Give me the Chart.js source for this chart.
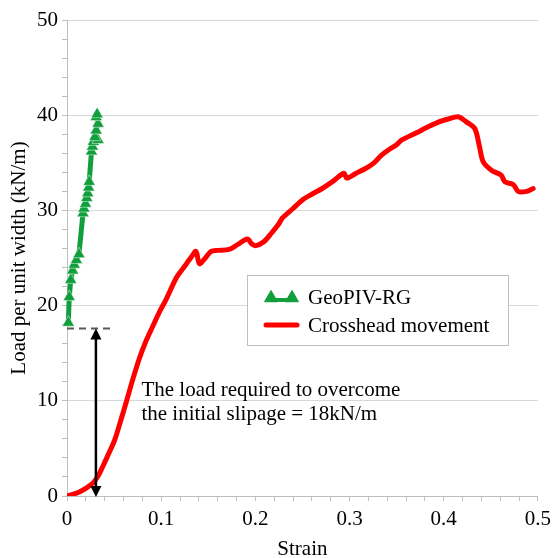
<!DOCTYPE html>
<html>
<head>
<meta charset="utf-8">
<script src="https://cdn.jsdelivr.net/npm/chart.js@4/dist/chart.umd.min.js"></script>
<style>
  html, body { margin: 0; padding: 0; background: #fff; }
  #wrap { width: 557px; height: 558px; }
</style>
</head>
<body>
<div id="wrap"><canvas id="chart"></canvas></div>
<script>
// crosshead movement (red curve)
const crossStrain = [0, 0.007, 0.0137, 0.02, 0.0278, 0.033, 0.038, 0.044, 0.0507, 0.057, 0.063, 0.07, 0.077, 0.084, 0.091, 0.098, 0.105, 0.116, 0.1247, 0.132, 0.137, 0.1406, 0.146, 0.153, 0.16, 0.172, 0.181, 0.1917, 0.196, 0.2005, 0.209, 0.217, 0.225, 0.2287, 0.24, 0.25, 0.26, 0.271, 0.283, 0.294, 0.297, 0.307, 0.317, 0.326, 0.334, 0.342, 0.35, 0.3555, 0.37, 0.384, 0.395, 0.405, 0.4154, 0.424, 0.433, 0.438, 0.442, 0.451, 0.461, 0.465, 0.474, 0.479, 0.488, 0.495];
const crossLoad = [0, 0.2, 0.45, 0.8, 1.4, 2.1, 3.1, 4.4, 5.9, 7.9, 9.9, 12.3, 14.5, 16.3, 17.8, 19.3, 20.6, 22.9, 24.1, 25.1, 25.7, 24.4, 24.9, 25.7, 25.8, 25.9, 26.4, 27.0, 26.5, 26.3, 26.7, 27.6, 28.6, 29.2, 30.2, 31.1, 31.7, 32.3, 33.1, 33.9, 33.4, 33.9, 34.4, 35.0, 35.8, 36.4, 36.9, 37.4, 38.1, 38.8, 39.3, 39.6, 39.84, 39.3, 38.6, 36.7, 35.1, 34.2, 33.7, 33.0, 32.7, 32.0, 32.0, 32.3];

// GeoPIV-RG (green triangles)
const geoStrain = [0.0014, 0.0024, 0.004, 0.006, 0.0077, 0.010, 0.0127, 0.017, 0.018, 0.0197, 0.021, 0.022, 0.023, 0.0236, 0.026, 0.027, 0.028, 0.033, 0.0296, 0.031, 0.033, 0.031, 0.032];
const geoLoad = [18.2, 20.9, 22.7, 23.7, 24.3, 24.8, 25.4, 29.7, 30.2, 30.7, 31.3, 31.8, 32.4, 33.0, 36.2, 36.7, 37.2, 37.4, 37.7, 38.4, 39.1, 39.8, 40.1];

const xMajorTicks = [0, 0.1, 0.2, 0.3, 0.4, 0.5];
const yMajorTicks = [0, 10, 20, 30, 40, 50];

// annotation
const slipLoad = 17.6;
const arrowStrain = 0.0307;
const dashEndStrain = 0.051;
const noteStrain = 0.079;
const noteLoads = [10.5, 8.0];
const noteLines = ['The load required to overcome', 'the initial slipage = 18kN/m'];

const green = '#119e3c';
const red = '#ff0000';
const FONT = "'Liberation Serif', 'Times New Roman', serif";

const isMajor = (v, list) => list.some(m => Math.abs(m - v) < 1e-6);

const annotPlugin = {
  id: 'annot',
  afterDatasetsDraw(chart) {
    const ctx = chart.ctx;
    const xs = chart.scales.x, ys = chart.scales.y;
    const yS = ys.getPixelForValue(slipLoad);
    const y0 = ys.getPixelForValue(0);
    const xa = xs.getPixelForValue(arrowStrain);
    ctx.save();
    // dashed level line
    ctx.setLineDash([7, 5]);
    ctx.strokeStyle = '#595959';
    ctx.lineWidth = 2;
    ctx.beginPath();
    ctx.moveTo(xs.getPixelForValue(0), yS);
    ctx.lineTo(xs.getPixelForValue(dashEndStrain), yS);
    ctx.stroke();
    ctx.setLineDash([]);
    // double arrow
    ctx.strokeStyle = '#000';
    ctx.fillStyle = '#000';
    ctx.lineWidth = 2.5;
    ctx.beginPath();
    ctx.moveTo(xa, yS + 8);
    ctx.lineTo(xa, y0 - 8);
    ctx.stroke();
    ctx.beginPath();
    ctx.moveTo(xa, yS); ctx.lineTo(xa - 5.5, yS + 11); ctx.lineTo(xa + 5.5, yS + 11); ctx.closePath();
    ctx.fill();
    ctx.beginPath();
    ctx.moveTo(xa, y0 + 1); ctx.lineTo(xa - 5.5, y0 - 10); ctx.lineTo(xa + 5.5, y0 - 10); ctx.closePath();
    ctx.fill();
    // note text
    ctx.font = '21px ' + FONT;
    ctx.textAlign = 'left';
    ctx.textBaseline = 'alphabetic';
    noteLines.forEach((t, i) => {
      ctx.fillText(t, xs.getPixelForValue(noteStrain), ys.getPixelForValue(noteLoads[i]));
    });
    ctx.restore();
  },
  afterDraw(chart) {
    // boxed legend
    const ctx = chart.ctx;
    const bx = 247, by = 275, bw = 261, bh = 70;
    ctx.save();
    ctx.fillStyle = '#fff';
    ctx.fillRect(bx, by, bw, bh);
    ctx.strokeStyle = '#bfbfbf';
    ctx.lineWidth = 1;
    ctx.strokeRect(bx + 0.5, by + 0.5, bw, bh);

    ctx.strokeStyle = green;
    ctx.lineWidth = 4;
    ctx.beginPath();
    ctx.moveTo(270, 300);
    ctx.lineTo(293, 300);
    ctx.stroke();
    ctx.fillStyle = green;
    ctx.lineWidth = 1;
    Chart.helpers.drawPoint(ctx, {pointStyle: 'triangle', radius: 7.5, borderWidth: 1, rotation: 0}, 271, 298);
    Chart.helpers.drawPoint(ctx, {pointStyle: 'triangle', radius: 7.5, borderWidth: 1, rotation: 0}, 292, 298);

    ctx.strokeStyle = red;
    ctx.lineWidth = 5;
    ctx.lineCap = 'round';
    ctx.beginPath();
    ctx.moveTo(266, 325);
    ctx.lineTo(297, 325);
    ctx.stroke();

    ctx.fillStyle = '#000';
    ctx.font = '21px ' + FONT;
    ctx.textAlign = 'left';
    ctx.textBaseline = 'alphabetic';
    ctx.fillText('GeoPIV-RG', 308, 304);
    ctx.fillText('Crosshead movement', 308, 332);
    ctx.restore();
  }
};

new Chart(document.getElementById('chart'), {
  type: 'line',
  data: {
    datasets: [
      {
        label: 'GeoPIV-RG',
        data: geoStrain.map((x, i) => ({x: x, y: geoLoad[i]})),
        borderColor: green,
        backgroundColor: green,
        borderWidth: 5,
        pointStyle: 'triangle',
        pointRadius: 7,
        pointBackgroundColor: green,
        pointBorderColor: 'rgba(255,255,255,0.6)',
        pointBorderWidth: 0.8,
        tension: 0,
        clip: false,
        order: 1
      },
      {
        label: 'Crosshead movement',
        data: crossStrain.map((x, i) => ({x: x, y: crossLoad[i]})),
        borderColor: red,
        backgroundColor: red,
        borderWidth: 5,
        pointRadius: 0,
        tension: 0.3,
        borderCapStyle: 'round',
        borderJoinStyle: 'round',
        order: 2
      }
    ]
  },
  options: {
    responsive: true,
    maintainAspectRatio: false,
    animation: false,
    layout: { padding: { top: 20, right: 17, left: 0, bottom: 0 } },
    plugins: {
      legend: { display: false },
      tooltip: { enabled: false }
    },
    scales: {
      x: {
        type: 'linear',
        min: 0,
        max: 0.5,
        afterFit: s => { s.height = 62; },
        ticks: {
          stepSize: 0.02,
          autoSkip: false,
          maxRotation: 0,
          padding: 6,
          color: '#000',
          font: { family: FONT, size: 21 },
          callback: v => isMajor(v, xMajorTicks) ? String(Math.round(v * 10) / 10) : ''
        },
        grid: {
          drawOnChartArea: false,
          tickLength: 5,
          tickColor: '#bfbfbf'
        },
        border: { color: '#bfbfbf' },
        title: {
          display: true,
          text: 'Strain',
          color: '#000',
          font: { family: FONT, size: 21 },
          padding: { top: 0, bottom: -4 }
        }
      },
      y: {
        type: 'linear',
        min: 0,
        max: 50,
        afterFit: s => { s.width = 67; },
        ticks: {
          stepSize: 2,
          autoSkip: false,
          padding: 4,
          color: '#000',
          font: { family: FONT, size: 21 },
          callback: v => isMajor(v, yMajorTicks) ? String(v) : ''
        },
        grid: {
          color: c => (c.tick && isMajor(c.tick.value, yMajorTicks)) ? '#d9d9d9' : 'rgba(0,0,0,0)',
          tickLength: 5,
          tickColor: '#bfbfbf'
        },
        border: { color: '#bfbfbf' },
        title: {
          display: true,
          text: 'Load per unit width (kN/m)',
          color: '#000',
          font: { family: FONT, size: 21 },
          padding: { top: 7, bottom: 0 }
        }
      }
    }
  },
  plugins: [annotPlugin]
});
</script>
</body>
</html>
